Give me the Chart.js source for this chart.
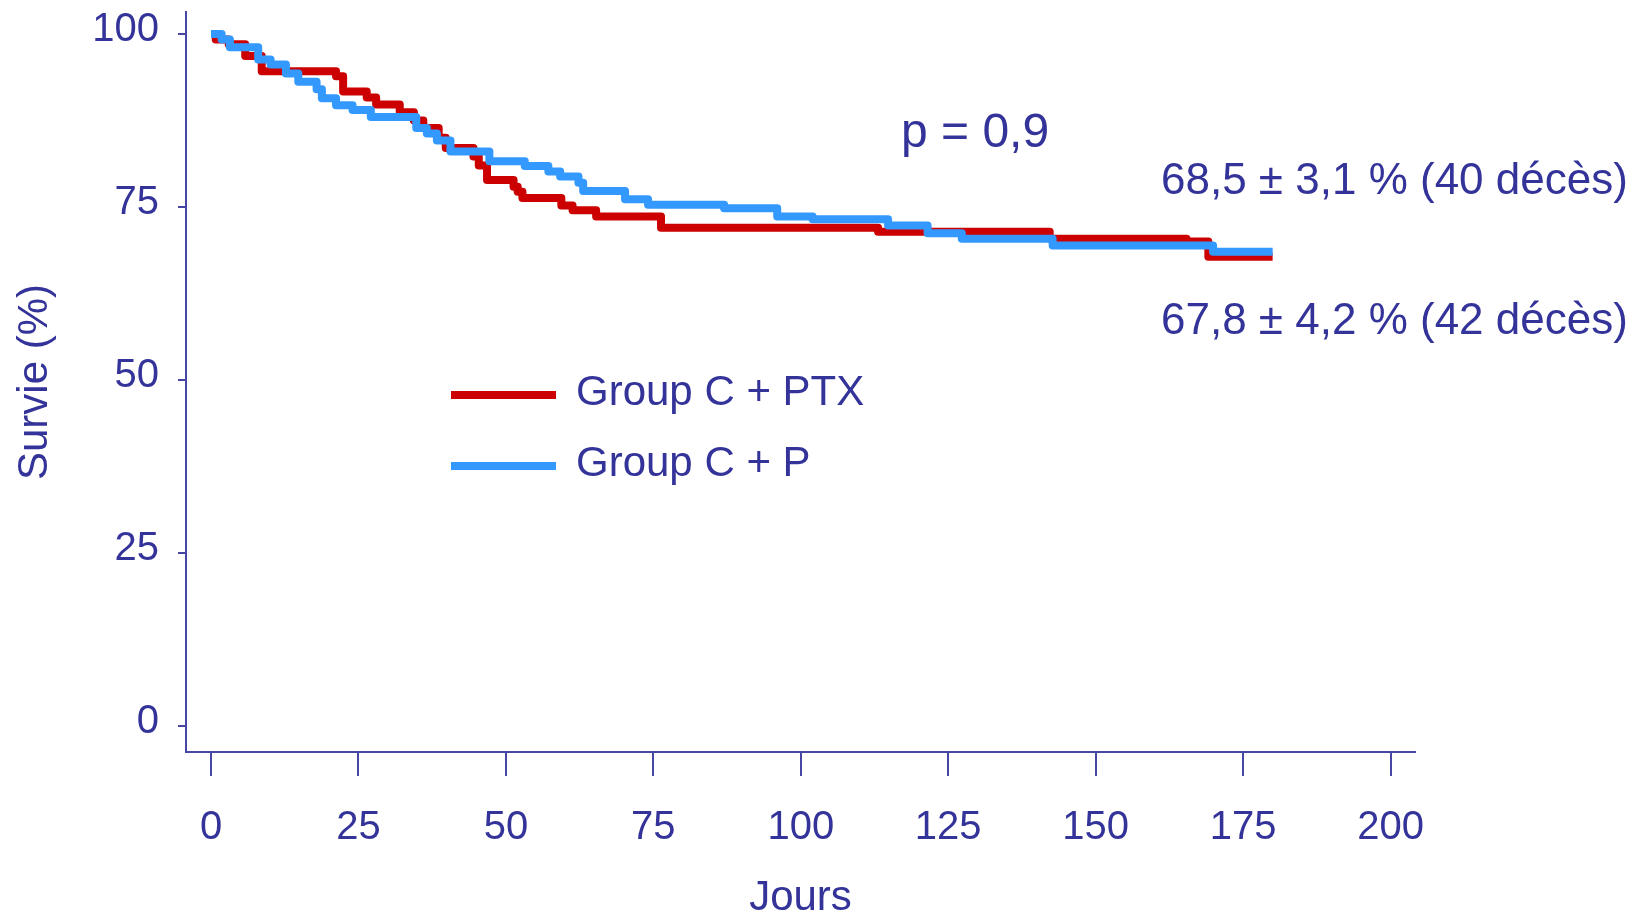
<!DOCTYPE html>
<html>
<head>
<meta charset="utf-8">
<script src="https://cdn.jsdelivr.net/npm/chart.js@4.4.1/dist/chart.umd.min.js"></script>
<style>
  body { margin: 0; background: #fff; }
  canvas { display: block; }
</style>
</head>
<body>
<canvas id="km" width="1637" height="912"></canvas>
<script>
// survival data (days, % alive)
const ptxDays = [0, 0.8, 3.0, 5.8, 8.6, 21.2, 22.4, 26.4, 28.0, 32.0, 34.4, 36.0, 38.6, 39.8, 44.5, 45.4, 46.8, 51.3, 52.0, 52.8, 59.4, 61.3, 65.3, 76.3, 113.1, 142.2, 165.4, 169.1, 180];
const ptxSurv = [100, 99.2, 98.5, 96.8, 94.6, 93.9, 91.7, 90.8, 89.8, 88.7, 87.5, 86.4, 85.0, 83.5, 82.3, 81.0, 78.9, 77.9, 77.2, 76.3, 75.2, 74.5, 73.6, 72.0, 71.4, 70.4, 70.0, 67.8, 67.8];

const pDays = [0, 1.8, 3.2, 8.0, 10.1, 12.7, 14.8, 17.9, 18.8, 21.2, 24.0, 27.1, 34.8, 36.6, 38.3, 40.6, 47.2, 53.2, 57.2, 59.2, 62.3, 63.1, 70.2, 74.1, 87.0, 96.0, 102.0, 114.8, 121.5, 127.3, 142.7, 169.9, 180];
const pSurv = [100, 99.2, 98.1, 96.3, 95.6, 94.3, 93.1, 92.0, 90.7, 89.7, 89.0, 88.0, 86.4, 85.6, 84.6, 83.0, 81.6, 80.9, 80.1, 79.4, 78.5, 77.3, 76.1, 75.3, 74.8, 73.6, 73.2, 72.3, 71.2, 70.4, 69.4, 68.5, 68.5];

const xTicks = [0, 25, 50, 75, 100, 125, 150, 175, 200];
const yTicks = [0, 25, 50, 75, 100];

const groupNames = ['Group C + PTX', 'Group C + P'];
const notes = ['p = 0,9', '68,5 \u00b1 3,1 % (40 d\u00e9c\u00e8s)', '67,8 \u00b1 4,2 % (42 d\u00e9c\u00e8s)'];

const ink = '#333399';
const axisCol = '#4646a4';
const red = '#cc0000';
const blue = '#3399ff';
const fam = '"Liberation Sans", Arial, Helvetica, sans-serif';

const toPts = (xs, ys) => xs.map((x, i) => ({ x: x, y: ys[i] }));

// legend + text notes drawn on top of the plot
const overlay = {
  id: 'overlay',
  afterDatasetsDraw(chart) {
    const ctx = chart.ctx;
    ctx.save();
    ctx.textAlign = 'left';
    ctx.textBaseline = 'middle';
    ctx.fillStyle = ink;

    const rows = [
      { col: red, name: groupNames[0], y: 395 },
      { col: blue, name: groupNames[1], y: 466 }
    ];
    rows.forEach(r => {
      ctx.strokeStyle = r.col;
      ctx.lineWidth = 8;
      ctx.beginPath();
      ctx.moveTo(451, r.y);
      ctx.lineTo(556, r.y);
      ctx.stroke();
      ctx.font = '42px ' + fam;
      ctx.fillText(r.name, 576, r.y - 2);
    });

    ctx.font = '48px ' + fam;
    ctx.fillText(notes[0], 901, 134);
    ctx.font = '44px ' + fam;
    ctx.fillText(notes[1], 1161, 182);
    ctx.fillText(notes[2], 1161, 322);
    ctx.restore();
  }
};

new Chart(document.getElementById('km'), {
  type: 'line',
  data: {
    datasets: [
      {
        label: groupNames[1],
        data: toPts(pDays, pSurv),
        borderColor: blue,
        borderWidth: 8,
        stepped: true,
        pointRadius: 0,
        borderJoinStyle: 'round',
        order: 0
      },
      {
        label: groupNames[0],
        data: toPts(ptxDays, ptxSurv),
        borderColor: red,
        borderWidth: 8,
        stepped: true,
        pointRadius: 0,
        borderJoinStyle: 'round',
        order: 1
      }
    ]
  },
  options: {
    responsive: false,
    animation: false,
    devicePixelRatio: 1,
    layout: { padding: { left: 0, top: 12, right: 222, bottom: 0 } },
    plugins: { legend: { display: false }, tooltip: { enabled: false } },
    scales: {
      x: {
        type: 'linear',
        min: -4.24,
        max: 204.14,
        border: { color: axisCol, width: 2 },
        grid: { drawOnChartArea: false, drawTicks: true, tickLength: 24, color: axisCol, lineWidth: 2 },
        ticks: { color: ink, font: { family: fam, size: 40 }, padding: 28, maxRotation: 0 },
        afterBuildTicks: s => { s.ticks = xTicks.map(v => ({ value: v })); },
        afterFit: s => { s.height = 160; s.paddingLeft = 0; s.paddingRight = 0; },
        title: { display: true, text: 'Jours', color: ink, font: { family: fam, size: 42 }, padding: { top: 0, bottom: -12 } }
      },
      y: {
        type: 'linear',
        min: -3.82,
        max: 103.18,
        border: { color: axisCol, width: 2 },
        grid: { drawOnChartArea: false, drawTicks: true, tickLength: 8, color: axisCol, lineWidth: 2 },
        ticks: { color: ink, font: { family: fam, size: 40 }, padding: 19, labelOffset: -4 },
        afterBuildTicks: s => { s.ticks = yTicks.map(v => ({ value: v })); },
        afterFit: s => { s.width = 186; s.paddingTop = 0; s.paddingBottom = 0; },
        title: { display: true, text: 'Survie (%)', color: ink, font: { family: fam, size: 42 }, padding: { top: 10, bottom: 0 } }
      }
    }
  },
  plugins: [overlay]
});
</script>
</body>
</html>
